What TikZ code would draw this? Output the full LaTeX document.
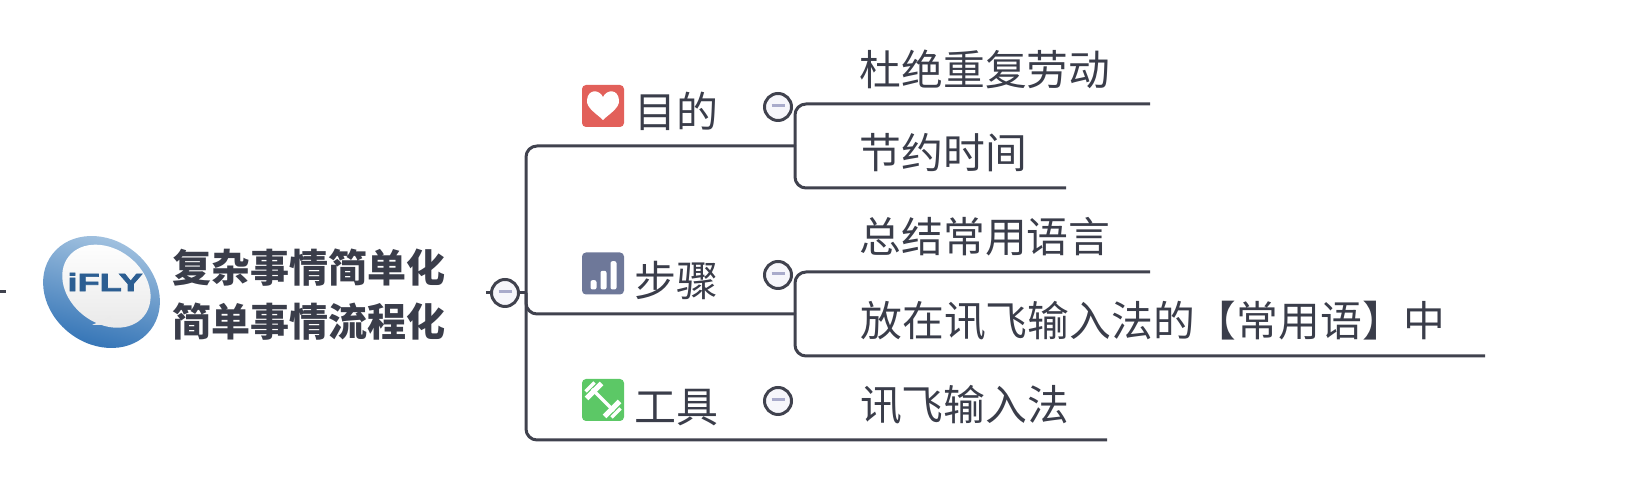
\documentclass[tikz,border=0pt]{standalone}
\usepackage{fontspec}
\setmainfont{Noto Sans CJK SC}
\newfontfamily\logofont[BoldFeatures={FakeBold=2.5}]{Liberation Sans}
\usetikzlibrary{positioning}
\definecolor{inkcol}{HTML}{3A3D4A}
\definecolor{linecol}{HTML}{40424E}
\definecolor{minuscol}{HTML}{A9ABCB}
\definecolor{foldcol}{HTML}{F6F6FB}
\definecolor{heartcol}{HTML}{E2605A}
\definecolor{barscol}{HTML}{6E7899}
\definecolor{gymcol}{HTML}{5CC866}
\definecolor{logotop}{HTML}{A8C6E2}
\definecolor{logomid}{HTML}{4A8AC6}
\definecolor{logolow}{HTML}{2E70B4}
\definecolor{flycol}{HTML}{2C5E92}
\tikzstyle{input} = [coordinate]
\tikzstyle{output} = [coordinate]
\tikzstyle{branch} = [draw=linecol, line width=3pt, rounded corners=11pt]
\tikzstyle{fold} = [draw=linecol, circle, line width=3pt, fill=foldcol, inner sep=0pt, minimum size=27pt]
\tikzstyle{icon} = [rectangle, rounded corners=4pt, inner sep=0pt, minimum size=42pt]
\tikzstyle{topic} = [text=inkcol, inner sep=0pt, text height=37pt, text depth=5pt, font=\fontsize{42pt}{42pt}\selectfont]
\tikzstyle{leaf} = [text=inkcol, inner sep=0pt, text height=36.8pt, text depth=5pt, font=\fontsize{41.8pt}{41.8pt}\selectfont]
\tikzstyle{rootbox} = [text=inkcol, inner sep=0pt, align=center, font=\fontsize{39pt}{54pt}\selectfont\bfseries]
\newcommand{\foldmark}{\textcolor{minuscol}{\rule[2.5pt]{13pt}{3pt}}}

\begin{document}
\begin{tikzpicture}[x=1pt, y=1pt, auto, node distance=100pt]
	\useasboundingbox (0,0) rectangle (1634,502);

	\node [input, name=edge] at (0,210) {};
	\node [input, right of=edge, node distance=6pt] (stub) {};
	\node [input, right of=stub, node distance=95.5pt] (logo) {};
	\node [rootbox, right of=logo, node distance=207pt, yshift=-3pt] (root) {复杂事情简单化\\简单事情流程化};
	\node [fold, right of=stub, node distance=499pt, yshift=-1pt] (rootfold) {\foldmark};
	\node [input, right of=rootfold, node distance=21pt] (trunk) {};
	\node [input, left of=rootfold, node distance=19pt] (rootnub) {};
	\draw [branch] (edge) -- (stub);
	\draw [branch] (rootfold) -- (rootnub);

	% the logo
	\shade [top color=logotop, middle color=logomid, bottom color=logolow, shading angle=-14, rotate around={-38:(logo)}]
		(logo) ellipse [x radius=62pt, y radius=52pt];
	\shade [top color=white, bottom color=black!9, shift={(logo)}, rotate=-38]
		(0.3pt,7.6pt) ellipse [x radius=48pt, y radius=37pt];
	\fill [black!8, shift={(logo)}] (-9.5pt,-33pt) -- (8.5pt,-25pt) -- (13.5pt,-33pt) -- cycle;
	\node [transform shape, xscale=1.45, text=flycol, inner sep=0pt, font=\logofont\bfseries\fontsize{25pt}{25pt}\selectfont, right of=logo, node distance=2.5pt, yshift=10pt] (fly) {iFLY};

	\node [icon, fill=heartcol] at (603,396) (goalicon) {};
	\node [icon, fill=barscol, below of=goalicon, node distance=167.5pt] (stepicon) {};
	\node [icon, fill=gymcol, below of=stepicon, node distance=126.5pt] (toolicon) {};

	\node [topic, right of=goalicon, node distance=73.5pt, yshift=-6pt] (goal) {目的};
	\node [topic, right of=stepicon, node distance=73.5pt, yshift=-7.5pt] (step) {步骤};
	\node [topic, right of=toolicon, node distance=73.5pt, yshift=-7pt] (tool) {工具};

	\node [fold, right of=goalicon, node distance=175pt, yshift=-1pt] (goalfold) {\foldmark};
	\node [fold, right of=stepicon, node distance=175pt, yshift=-1.5pt] (stepfold) {\foldmark};
	\node [fold, right of=toolicon, node distance=175pt, yshift=-1pt] (toolfold) {\foldmark};

	\node [input, right of=goalicon, node distance=192pt, yshift=-40pt] (goalknot) {};
	\node [input, right of=stepicon, node distance=192pt, yshift=-40.5pt] (stepknot) {};
	\node [output, right of=toolicon, node distance=504pt, yshift=-40pt] (toolend) {};

	\node [leaf, right of=goalknot, node distance=190pt, yshift=76pt] (repeatleaf) {杜绝重复劳动};
	\node [leaf, right of=goalknot, node distance=148.5pt, yshift=-7pt] (timeleaf) {节约时间};
	\node [leaf, right of=stepknot, node distance=190pt, yshift=77pt] (phraseleaf) {总结常用语言};
	\node [leaf, right of=stepknot, node distance=358pt, yshift=-7pt] (storeleaf) {放在讯飞输入法的【常用语】中};
	\node [leaf, right of=toolicon, node distance=361.5pt, yshift=-5pt] (imeleaf) {讯飞输入法};

	\node [output, right of=goalknot, node distance=355pt, yshift=42pt] (repeatend) {};
	\node [output, right of=goalknot, node distance=271pt, yshift=-42pt] (timeend) {};
	\node [output, right of=stepknot, node distance=355pt, yshift=42pt] (phraseend) {};
	\node [output, right of=stepknot, node distance=690pt, yshift=-42pt] (storeend) {};

	\draw [branch] (rootfold) -- (trunk);
	\draw [branch] (trunk) |- (goalknot);
	\draw [branch] (trunk) |- (stepknot);
	\draw [branch] (trunk) |- (toolend);
	\draw [branch] (goalknot) |- (repeatend);
	\draw [branch] (goalknot) |- (timeend);
	\draw [branch] (stepknot) |- (phraseend);
	\draw [branch] (stepknot) |- (storeend);

	% icon glyphs
	\fill [white, shift={(goalicon)}] (0pt,-14pt) .. controls (-6pt,-8pt) and (-17pt,-2pt) .. (-16pt,6pt)
		.. controls (-15pt,17pt) and (-4pt,17pt) .. (0pt,9pt)
		.. controls (4pt,17pt) and (15pt,17pt) .. (16pt,6pt)
		.. controls (17pt,-2pt) and (6pt,-8pt) .. (0pt,-14pt) -- cycle;
	\foreach \bx/\btop in {-12.5/-6.7, -2.5/2.7, 7.5/12.3}
		\fill [white, rounded corners=2pt, shift={(stepicon)}] (\bx pt,-16pt) rectangle (\bx pt+6pt,\btop pt);
	\draw [white, line width=3.5pt, shift={(toolicon)}] (-11pt,11pt) -- (11pt,-11pt);
	\foreach \sg in {1,-1} {
		\draw [white, line width=5pt, shift={(toolicon)}] (-9pt*\sg-7.5pt,9pt*\sg-7.5pt) -- (-9pt*\sg+7.5pt,9pt*\sg+7.5pt);
		\draw [white, line width=3.5pt, shift={(toolicon)}] (-13pt*\sg-4.5pt,13pt*\sg-4.5pt) -- (-13pt*\sg+4.5pt,13pt*\sg+4.5pt);
	}
\end{tikzpicture}
\end{document}
